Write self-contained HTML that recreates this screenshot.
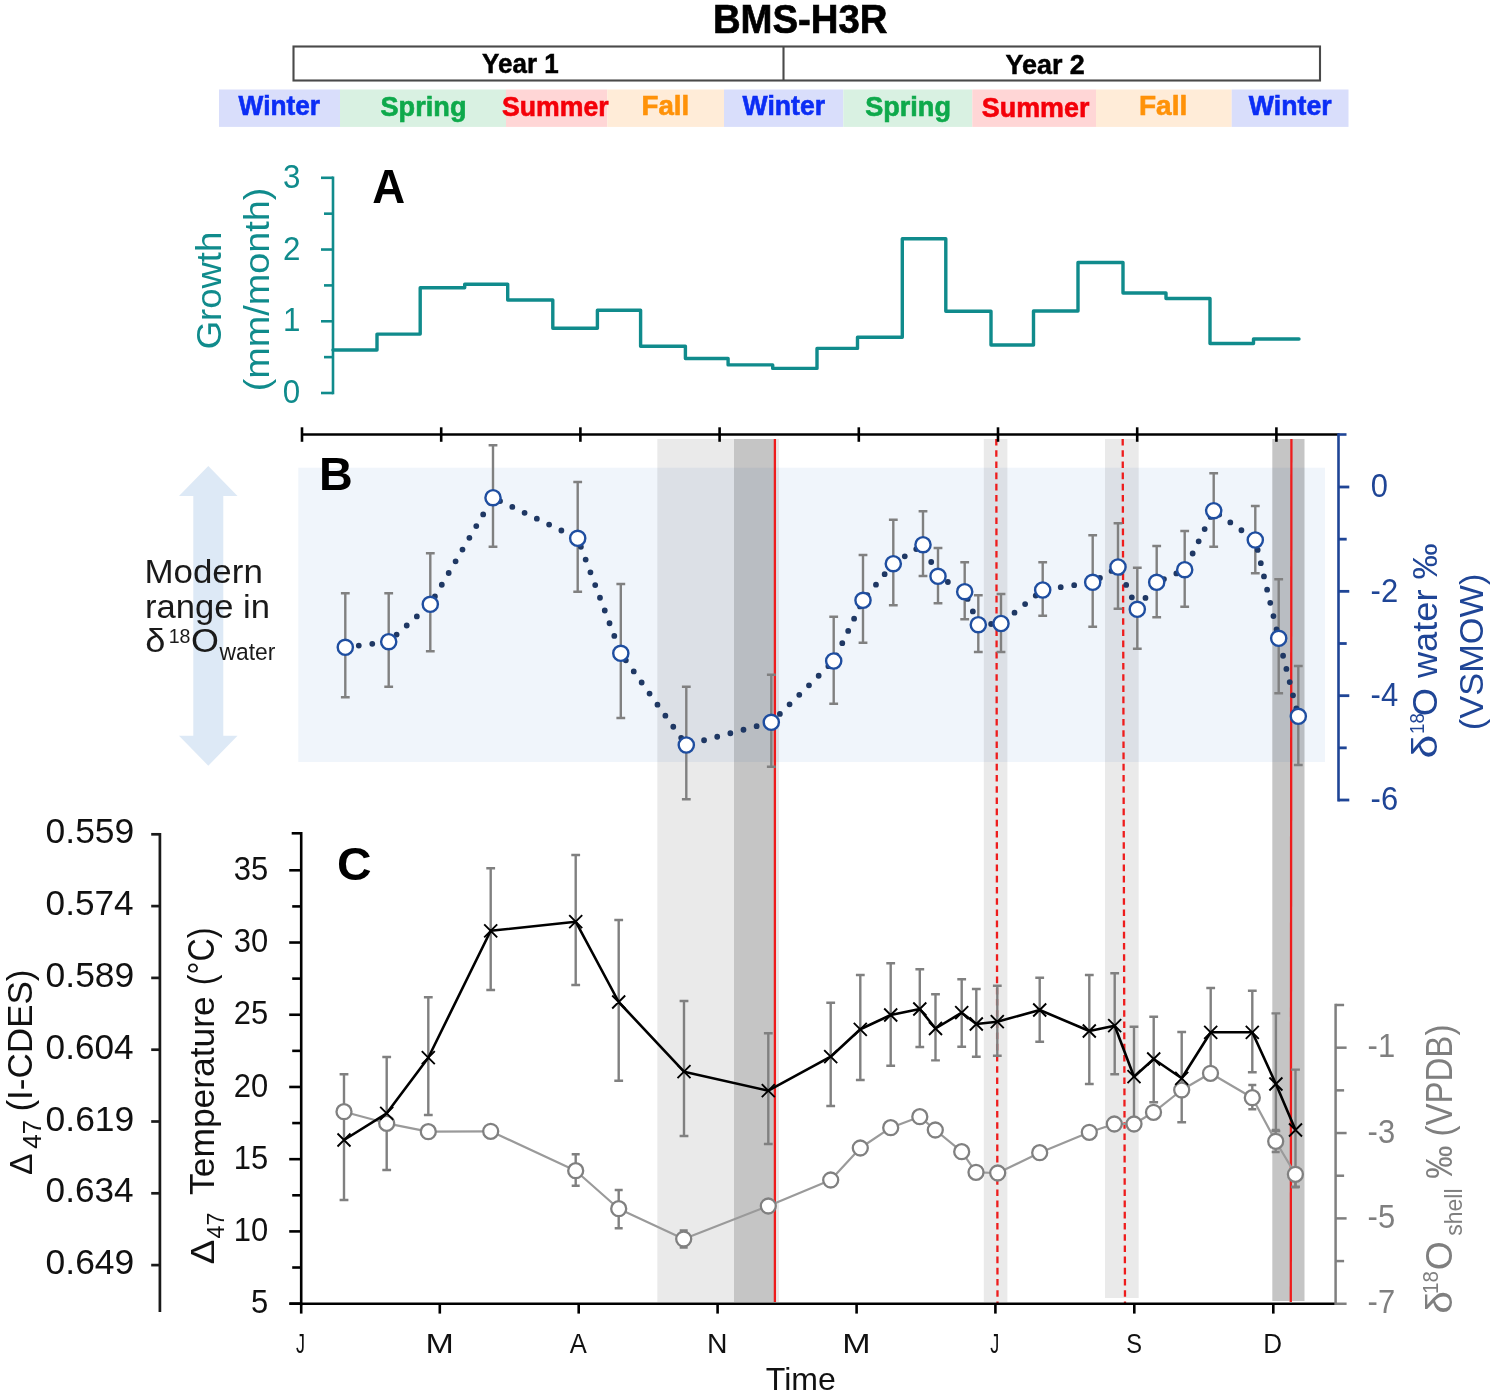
<!DOCTYPE html>
<html lang="en">
<head>
<meta charset="utf-8">
<title>BMS-H3R</title>
<style>
html,body{margin:0;padding:0;background:#fff;}
body{width:1499px;height:1395px;overflow:hidden;}
svg{display:block;font-family:"Liberation Sans", sans-serif;}
</style>
</head>
<body>
<svg width="1499" height="1395" viewBox="0 0 1499 1395">
<rect width="1499" height="1395" fill="#fff"/>
<text transform="translate(712.91 33) scale(0.9239 1)" font-size="41.5" fill="#000" font-weight="bold" stroke="#000" stroke-width="0.7">BMS-H3R</text>
<rect x="293.5" y="46.5" width="1026.5" height="34" fill="#fff" stroke="#4a4a4a" stroke-width="2.1"/>
<line x1="783.5" y1="46.5" x2="783.5" y2="80.5" stroke="#4a4a4a" stroke-width="2.1"/>
<text transform="translate(482.08 73.3) scale(0.9524 1)" font-size="27.3" fill="#000" font-weight="bold" stroke="#000" stroke-width="0.5">Year 1</text>
<text transform="translate(1005.46 74.2) scale(0.9865 1)" font-size="27.3" fill="#000" font-weight="bold" stroke="#000" stroke-width="0.5">Year 2</text>
<rect x="219" y="89.5" width="121.0" height="37.4" fill="#d9defb"/>
<rect x="340" y="89.5" width="166.0" height="37.4" fill="#d9f1e2"/>
<rect x="506" y="89.5" width="101.3" height="37.4" fill="#ffd6d6"/>
<rect x="607.3" y="89.5" width="116.7" height="37.4" fill="#ffecd8"/>
<rect x="724" y="89.5" width="119.3" height="37.4" fill="#d9defb"/>
<rect x="843.3" y="89.5" width="129.0" height="37.4" fill="#d9f1e2"/>
<rect x="972.3" y="89.5" width="123.7" height="37.4" fill="#ffd6d6"/>
<rect x="1096" y="89.5" width="135.7" height="37.4" fill="#ffecd8"/>
<rect x="1231.7" y="89.5" width="116.8" height="37.4" fill="#d9defb"/>
<text transform="translate(238.6 115) scale(0.9629 1)" font-size="27.3" fill="#0b2df5" font-weight="bold" stroke="#0b2df5" stroke-width="0.6">Winter</text>
<text transform="translate(380.49 115.5) scale(0.9951 1)" font-size="27.3" fill="#0ea94b" font-weight="bold" stroke="#0ea94b" stroke-width="0.6">Spring</text>
<text transform="translate(502 116) scale(0.9762 1)" font-size="27.3" fill="#f40009" font-weight="bold" stroke="#f40009" stroke-width="0.6">Summer</text>
<text transform="translate(641.5 114.5) scale(1.0145 1)" font-size="27.3" fill="#ff9208" font-weight="bold" stroke="#ff9208" stroke-width="0.6">Fall</text>
<text transform="translate(742.6 115) scale(0.9748 1)" font-size="27.3" fill="#0b2df5" font-weight="bold" stroke="#0b2df5" stroke-width="0.6">Winter</text>
<text transform="translate(865.19 115.5) scale(0.9927 1)" font-size="27.3" fill="#0ea94b" font-weight="bold" stroke="#0ea94b" stroke-width="0.6">Spring</text>
<text transform="translate(981.79 116.5) scale(0.9854 1)" font-size="27.3" fill="#f40009" font-weight="bold" stroke="#f40009" stroke-width="0.6">Summer</text>
<text transform="translate(1138.98 114.5) scale(1.0261 1)" font-size="27.3" fill="#ff9208" font-weight="bold" stroke="#ff9208" stroke-width="0.6">Fall</text>
<text transform="translate(1248.8 115) scale(0.9784 1)" font-size="27.3" fill="#0b2df5" font-weight="bold" stroke="#0b2df5" stroke-width="0.6">Winter</text>
<rect x="298.3" y="467.7" width="1026.7" height="294.3" fill="#f0f5fb"/>
<rect x="657.3" y="439" width="76.7" height="863" fill="rgba(0,0,0,0.082)"/>
<rect x="734" y="439" width="41.8" height="863" fill="rgba(0,0,0,0.228)"/>
<rect x="775.8" y="439" width="3.2" height="863" fill="rgba(0,0,0,0.082)"/>
<rect x="983.8" y="439" width="23.6" height="863" fill="rgba(0,0,0,0.082)"/>
<rect x="1105" y="439" width="33.7" height="859" fill="rgba(0,0,0,0.082)"/>
<rect x="1272.3" y="439" width="32.2" height="862" fill="rgba(0,0,0,0.228)"/>
<line x1="774.9" y1="439" x2="774.9" y2="1302" stroke="#ee1c1c" stroke-width="2.3"/>
<line x1="1291.4" y1="439" x2="1290.8" y2="1302" stroke="#ee1c1c" stroke-width="2.3"/>
<line x1="996.3" y1="439" x2="997.5" y2="1303" stroke="#ee1c1c" stroke-width="2.3" stroke-dasharray="6.6 4.6"/>
<line x1="1122.7" y1="439" x2="1125" y2="1303" stroke="#ee1c1c" stroke-width="2.3" stroke-dasharray="6.6 4.6"/>
<path d="M333 176.5 V394.3" stroke="#108b8c" stroke-width="2.6" fill="none"/>
<line x1="321" y1="393" x2="333" y2="393" stroke="#108b8c" stroke-width="2.6"/>
<line x1="324" y1="357.13" x2="333" y2="357.13" stroke="#108b8c" stroke-width="2.6"/>
<line x1="321" y1="321.27" x2="333" y2="321.27" stroke="#108b8c" stroke-width="2.6"/>
<line x1="324" y1="285.4" x2="333" y2="285.4" stroke="#108b8c" stroke-width="2.6"/>
<line x1="321" y1="249.53" x2="333" y2="249.53" stroke="#108b8c" stroke-width="2.6"/>
<line x1="324" y1="213.67" x2="333" y2="213.67" stroke="#108b8c" stroke-width="2.6"/>
<line x1="321" y1="177.8" x2="333" y2="177.8" stroke="#108b8c" stroke-width="2.6"/>
<text transform="translate(282.94 187.8) scale(0.9400 1)" font-size="33.3" fill="#108b8c">3</text>
<text transform="translate(283.09 259.7) scale(0.9400 1)" font-size="33.3" fill="#108b8c">2</text>
<text transform="translate(283.09 331.3) scale(0.9400 1)" font-size="33.3" fill="#108b8c">1</text>
<text transform="translate(282.78 403) scale(0.9400 1)" font-size="33.3" fill="#108b8c">0</text>
<text transform="translate(221.4 349.32) rotate(-90) scale(1.0138 1)" font-size="36" fill="#108b8c">Growth</text>
<text transform="translate(269 391.27) rotate(-90) scale(1.0499 1)" font-size="36" fill="#108b8c">(mm/month)</text>
<text transform="translate(372.36 203.4) scale(0.9484 1)" font-size="48" fill="#000" font-weight="bold">A</text>
<path d="M333 350 H377 V334.1 H420.2 V287.7 H464.7 V284.2 H507.7 V300 H552.8 V328.3 H597.4 V310.2 H640.6 V346.2 H685.4 V358.5 H728.1 V364.9 H772.7 V368.4 H817 V348.4 H857.5 V337.2 H902.3 V238.7 H945.8 V311.2 H991 V345 H1033.5 V311 H1078 V262.5 H1123 V293 H1166 V298.5 H1210 V343.5 H1253.5 V339 H1299" stroke="#108b8c" stroke-width="3.4" fill="none" stroke-linejoin="round" stroke-linecap="round"/>
<line x1="301" y1="434.5" x2="1339" y2="434.5" stroke="#000" stroke-width="2.6"/>
<line x1="302" y1="427.3" x2="302" y2="441.8" stroke="#000" stroke-width="2.6"/>
<line x1="441.2" y1="427.3" x2="441.2" y2="441.8" stroke="#000" stroke-width="2.6"/>
<line x1="580.4" y1="427.3" x2="580.4" y2="441.8" stroke="#000" stroke-width="2.6"/>
<line x1="719.6" y1="427.3" x2="719.6" y2="441.8" stroke="#000" stroke-width="2.6"/>
<line x1="858.8" y1="427.3" x2="858.8" y2="441.8" stroke="#000" stroke-width="2.6"/>
<line x1="998" y1="427.3" x2="998" y2="441.8" stroke="#000" stroke-width="2.6"/>
<line x1="1137.2" y1="427.3" x2="1137.2" y2="441.8" stroke="#000" stroke-width="2.6"/>
<line x1="1276.4" y1="427.3" x2="1276.4" y2="441.8" stroke="#000" stroke-width="2.6"/>
<path d="M208.3 466 L237.5 496 H223.3 V735.7 H237.5 L208.3 765.7 L179 735.7 H193.3 V496 H179 Z" fill="#dde9f6"/>
<text transform="translate(144.4 583.3) scale(1.0432 1)" font-size="33.5" fill="#1a1a1a">Modern</text>
<text transform="translate(144.95 618.3) scale(1.0330 1)" font-size="33.5" fill="#1a1a1a">range in</text>
<text transform="translate(145.35 651.7) scale(1.0809 1)" font-size="33.5" fill="#1a1a1a">δ</text>
<text transform="translate(168.73 643.3) scale(0.9332 1)" font-size="21" fill="#1a1a1a">18</text>
<text transform="translate(191.08 651.7) scale(1.0720 1)" font-size="33.5" fill="#1a1a1a">O</text>
<text transform="translate(219.5 659.5) scale(0.9719 1)" font-size="23.5" fill="#1a1a1a">water</text>
<text transform="translate(318.96 490) scale(0.9941 1)" font-size="47" fill="#000" font-weight="bold">B</text>
<path d="M345.3 593.3 V697.3 M340.90000000000003 593.3 H349.7 M340.90000000000003 697.3 H349.7" stroke="#808080" stroke-width="2.4" fill="none"/>
<path d="M388.7 593.3 V686.7 M384.3 593.3 H393.09999999999997 M384.3 686.7 H393.09999999999997" stroke="#808080" stroke-width="2.4" fill="none"/>
<path d="M430.3 553.3 V651.3 M425.90000000000003 553.3 H434.7 M425.90000000000003 651.3 H434.7" stroke="#808080" stroke-width="2.4" fill="none"/>
<path d="M493 445.3 V546.7 M488.6 445.3 H497.4 M488.6 546.7 H497.4" stroke="#808080" stroke-width="2.4" fill="none"/>
<path d="M577.7 482 V591.7 M573.3000000000001 482 H582.1 M573.3000000000001 591.7 H582.1" stroke="#808080" stroke-width="2.4" fill="none"/>
<path d="M620.8 584 V718 M616.4 584 H625.1999999999999 M616.4 718 H625.1999999999999" stroke="#808080" stroke-width="2.4" fill="none"/>
<path d="M686.3 686.7 V799.3 M681.9 686.7 H690.6999999999999 M681.9 799.3 H690.6999999999999" stroke="#808080" stroke-width="2.4" fill="none"/>
<path d="M771.3 674.7 V766.7 M766.9 674.7 H775.6999999999999 M766.9 766.7 H775.6999999999999" stroke="#808080" stroke-width="2.4" fill="none"/>
<path d="M833.7 616.7 V703.7 M829.3000000000001 616.7 H838.1 M829.3000000000001 703.7 H838.1" stroke="#808080" stroke-width="2.4" fill="none"/>
<path d="M863 555 V642.7 M858.6 555 H867.4 M858.6 642.7 H867.4" stroke="#808080" stroke-width="2.4" fill="none"/>
<path d="M893.3 519.7 V605.3 M888.9 519.7 H897.6999999999999 M888.9 605.3 H897.6999999999999" stroke="#808080" stroke-width="2.4" fill="none"/>
<path d="M923 511.3 V576 M918.6 511.3 H927.4 M918.6 576 H927.4" stroke="#808080" stroke-width="2.4" fill="none"/>
<path d="M938 548 V603.3 M933.6 548 H942.4 M933.6 603.3 H942.4" stroke="#808080" stroke-width="2.4" fill="none"/>
<path d="M964.7 562.3 V619.3 M960.3000000000001 562.3 H969.1 M960.3000000000001 619.3 H969.1" stroke="#808080" stroke-width="2.4" fill="none"/>
<path d="M978.3 595.3 V652 M973.9 595.3 H982.6999999999999 M973.9 652 H982.6999999999999" stroke="#808080" stroke-width="2.4" fill="none"/>
<path d="M1001 594 V652 M996.6 594 H1005.4 M996.6 652 H1005.4" stroke="#808080" stroke-width="2.4" fill="none"/>
<path d="M1042.7 562.3 V615.7 M1038.3 562.3 H1047.1000000000001 M1038.3 615.7 H1047.1000000000001" stroke="#808080" stroke-width="2.4" fill="none"/>
<path d="M1092.7 535.3 V626.7 M1088.3 535.3 H1097.1000000000001 M1088.3 626.7 H1097.1000000000001" stroke="#808080" stroke-width="2.4" fill="none"/>
<path d="M1118 523.3 V608.7 M1113.6 523.3 H1122.4 M1113.6 608.7 H1122.4" stroke="#808080" stroke-width="2.4" fill="none"/>
<path d="M1137.3 567.7 V648.7 M1132.8999999999999 567.7 H1141.7 M1132.8999999999999 648.7 H1141.7" stroke="#808080" stroke-width="2.4" fill="none"/>
<path d="M1156.7 546 V617.3 M1152.3 546 H1161.1000000000001 M1152.3 617.3 H1161.1000000000001" stroke="#808080" stroke-width="2.4" fill="none"/>
<path d="M1184.7 531 V606.7 M1180.3 531 H1189.1000000000001 M1180.3 606.7 H1189.1000000000001" stroke="#808080" stroke-width="2.4" fill="none"/>
<path d="M1213.7 473.3 V546.7 M1209.3 473.3 H1218.1000000000001 M1209.3 546.7 H1218.1000000000001" stroke="#808080" stroke-width="2.4" fill="none"/>
<path d="M1255.3 506 V573.3 M1250.8999999999999 506 H1259.7 M1250.8999999999999 573.3 H1259.7" stroke="#808080" stroke-width="2.4" fill="none"/>
<path d="M1278.7 579.3 V693.3 M1274.3 579.3 H1283.1000000000001 M1274.3 693.3 H1283.1000000000001" stroke="#808080" stroke-width="2.4" fill="none"/>
<path d="M1298.3 666 V765 M1293.8999999999999 666 H1302.7 M1293.8999999999999 765 H1302.7" stroke="#808080" stroke-width="2.4" fill="none"/>
<polyline points="345.3,647.3 388.7,641.7 430.3,604.3 493,497.7 577.7,538.3 620.8,653.3 686.3,745 771.3,722.3 833.7,661 863,600.3 893.3,563.7 923,544.7 938,576.3 964.7,591.7 978.3,624.7 1001,623.5 1042.7,590 1092.7,582.3 1118,567 1137.3,609.3 1156.7,582.3 1184.7,569.7 1213.7,510.7 1255.3,540 1278.7,638.3 1298.3,716.3" fill="none" stroke="#1f3864" stroke-width="5.8" stroke-linecap="round" stroke-dasharray="0 13.6"/>
<circle cx="345.3" cy="647.3" r="7.6" fill="#fff" stroke="#1f4ea0" stroke-width="2.4"/>
<circle cx="388.7" cy="641.7" r="7.6" fill="#fff" stroke="#1f4ea0" stroke-width="2.4"/>
<circle cx="430.3" cy="604.3" r="7.6" fill="#fff" stroke="#1f4ea0" stroke-width="2.4"/>
<circle cx="493" cy="497.7" r="7.6" fill="#fff" stroke="#1f4ea0" stroke-width="2.4"/>
<circle cx="577.7" cy="538.3" r="7.6" fill="#fff" stroke="#1f4ea0" stroke-width="2.4"/>
<circle cx="620.8" cy="653.3" r="7.6" fill="#fff" stroke="#1f4ea0" stroke-width="2.4"/>
<circle cx="686.3" cy="745" r="7.6" fill="#fff" stroke="#1f4ea0" stroke-width="2.4"/>
<circle cx="771.3" cy="722.3" r="7.6" fill="#fff" stroke="#1f4ea0" stroke-width="2.4"/>
<circle cx="833.7" cy="661" r="7.6" fill="#fff" stroke="#1f4ea0" stroke-width="2.4"/>
<circle cx="863" cy="600.3" r="7.6" fill="#fff" stroke="#1f4ea0" stroke-width="2.4"/>
<circle cx="893.3" cy="563.7" r="7.6" fill="#fff" stroke="#1f4ea0" stroke-width="2.4"/>
<circle cx="923" cy="544.7" r="7.6" fill="#fff" stroke="#1f4ea0" stroke-width="2.4"/>
<circle cx="938" cy="576.3" r="7.6" fill="#fff" stroke="#1f4ea0" stroke-width="2.4"/>
<circle cx="964.7" cy="591.7" r="7.6" fill="#fff" stroke="#1f4ea0" stroke-width="2.4"/>
<circle cx="978.3" cy="624.7" r="7.6" fill="#fff" stroke="#1f4ea0" stroke-width="2.4"/>
<circle cx="1001" cy="623.5" r="7.6" fill="#fff" stroke="#1f4ea0" stroke-width="2.4"/>
<circle cx="1042.7" cy="590" r="7.6" fill="#fff" stroke="#1f4ea0" stroke-width="2.4"/>
<circle cx="1092.7" cy="582.3" r="7.6" fill="#fff" stroke="#1f4ea0" stroke-width="2.4"/>
<circle cx="1118" cy="567" r="7.6" fill="#fff" stroke="#1f4ea0" stroke-width="2.4"/>
<circle cx="1137.3" cy="609.3" r="7.6" fill="#fff" stroke="#1f4ea0" stroke-width="2.4"/>
<circle cx="1156.7" cy="582.3" r="7.6" fill="#fff" stroke="#1f4ea0" stroke-width="2.4"/>
<circle cx="1184.7" cy="569.7" r="7.6" fill="#fff" stroke="#1f4ea0" stroke-width="2.4"/>
<circle cx="1213.7" cy="510.7" r="7.6" fill="#fff" stroke="#1f4ea0" stroke-width="2.4"/>
<circle cx="1255.3" cy="540" r="7.6" fill="#fff" stroke="#1f4ea0" stroke-width="2.4"/>
<circle cx="1278.7" cy="638.3" r="7.6" fill="#fff" stroke="#1f4ea0" stroke-width="2.4"/>
<circle cx="1298.3" cy="716.3" r="7.6" fill="#fff" stroke="#1f4ea0" stroke-width="2.4"/>
<path d="M1338.5 433.2 V801.4" stroke="#1f4596" stroke-width="2.6" fill="none"/>
<line x1="1338.5" y1="434.5" x2="1346.5" y2="434.5" stroke="#1f4596" stroke-width="2.6"/>
<line x1="1338.5" y1="487" x2="1349.3" y2="487" stroke="#1f4596" stroke-width="2.8"/>
<line x1="1338.5" y1="539.17" x2="1346.7" y2="539.17" stroke="#1f4596" stroke-width="2.8"/>
<line x1="1338.5" y1="591.34" x2="1349.3" y2="591.34" stroke="#1f4596" stroke-width="2.8"/>
<line x1="1338.5" y1="643.51" x2="1346.7" y2="643.51" stroke="#1f4596" stroke-width="2.8"/>
<line x1="1338.5" y1="695.68" x2="1349.3" y2="695.68" stroke="#1f4596" stroke-width="2.8"/>
<line x1="1338.5" y1="747.85" x2="1346.7" y2="747.85" stroke="#1f4596" stroke-width="2.8"/>
<line x1="1338.5" y1="800.02" x2="1349.3" y2="800.02" stroke="#1f4596" stroke-width="2.8"/>
<text transform="translate(1370.76 497.3) scale(0.9300 1)" font-size="33.3" fill="#1f4596">0</text>
<text transform="translate(1370.61 601.6) scale(0.9300 1)" font-size="33.3" fill="#1f4596">-2</text>
<text transform="translate(1370.61 706) scale(0.9300 1)" font-size="33.3" fill="#1f4596">-4</text>
<text transform="translate(1370.61 810.3) scale(0.9300 1)" font-size="33.3" fill="#1f4596">-6</text>
<text transform="translate(1437 758.51) rotate(-90) scale(1.2211 1)" font-size="35" fill="#1f4596">δ</text>
<text transform="translate(1423.7 733.89) rotate(-90) scale(0.9296 1)" font-size="20" fill="#1f4596">18</text>
<text transform="translate(1437 716.33) rotate(-90) scale(1.0348 1)" font-size="35" fill="#1f4596">O water ‰</text>
<text transform="translate(1483 730.16) rotate(-90) scale(1.0239 1)" font-size="33.6" fill="#1f4596">(VSMOW)</text>
<path d="M159.9 832.9 V1312" stroke="#1a1a1a" stroke-width="2.7" fill="none"/>
<line x1="151.2" y1="834.3" x2="159.9" y2="834.3" stroke="#1a1a1a" stroke-width="2.7"/>
<text transform="translate(45.58 843.4) scale(0.9846 1)" font-size="36" fill="#111">0.559</text>
<line x1="151.2" y1="906.1" x2="159.9" y2="906.1" stroke="#1a1a1a" stroke-width="2.7"/>
<text transform="translate(45.59 915.2) scale(0.9765 1)" font-size="36" fill="#111">0.574</text>
<line x1="151.2" y1="977.9" x2="159.9" y2="977.9" stroke="#1a1a1a" stroke-width="2.7"/>
<text transform="translate(45.58 987) scale(0.9846 1)" font-size="36" fill="#111">0.589</text>
<line x1="151.2" y1="1049.7" x2="159.9" y2="1049.7" stroke="#1a1a1a" stroke-width="2.7"/>
<text transform="translate(45.59 1058.8) scale(0.9765 1)" font-size="36" fill="#111">0.604</text>
<line x1="151.2" y1="1121.5" x2="159.9" y2="1121.5" stroke="#1a1a1a" stroke-width="2.7"/>
<text transform="translate(45.58 1130.6) scale(0.9846 1)" font-size="36" fill="#111">0.619</text>
<line x1="151.2" y1="1193.3" x2="159.9" y2="1193.3" stroke="#1a1a1a" stroke-width="2.7"/>
<text transform="translate(45.59 1202.4) scale(0.9765 1)" font-size="36" fill="#111">0.634</text>
<line x1="151.2" y1="1265.1" x2="159.9" y2="1265.1" stroke="#1a1a1a" stroke-width="2.7"/>
<text transform="translate(45.58 1274.2) scale(0.9846 1)" font-size="36" fill="#111">0.649</text>
<text transform="translate(32.3 1174.97) rotate(-90) scale(1.0418 1)" font-size="31" fill="#111">Δ</text>
<text transform="translate(41.2 1148.65) rotate(-90) scale(1.0357 1)" font-size="25" fill="#111">47</text>
<text transform="translate(32.3 1111.6) rotate(-90) scale(0.9742 1)" font-size="36" fill="#111">(I-CDES)</text>
<path d="M301.2 831.9 V1305.2" stroke="#000" stroke-width="2.6" fill="none"/>
<line x1="291.7" y1="833.3" x2="301.2" y2="833.3" stroke="#000" stroke-width="2.6"/>
<line x1="289.2" y1="870.3" x2="301.2" y2="870.3" stroke="#000" stroke-width="2.6"/>
<line x1="292.2" y1="906.41" x2="301.2" y2="906.41" stroke="#000" stroke-width="2.6"/>
<line x1="289.2" y1="942.52" x2="301.2" y2="942.52" stroke="#000" stroke-width="2.6"/>
<line x1="292.2" y1="978.63" x2="301.2" y2="978.63" stroke="#000" stroke-width="2.6"/>
<line x1="289.2" y1="1014.74" x2="301.2" y2="1014.74" stroke="#000" stroke-width="2.6"/>
<line x1="292.2" y1="1050.85" x2="301.2" y2="1050.85" stroke="#000" stroke-width="2.6"/>
<line x1="289.2" y1="1086.96" x2="301.2" y2="1086.96" stroke="#000" stroke-width="2.6"/>
<line x1="292.2" y1="1123.07" x2="301.2" y2="1123.07" stroke="#000" stroke-width="2.6"/>
<line x1="289.2" y1="1159.18" x2="301.2" y2="1159.18" stroke="#000" stroke-width="2.6"/>
<line x1="292.2" y1="1195.29" x2="301.2" y2="1195.29" stroke="#000" stroke-width="2.6"/>
<line x1="289.2" y1="1231.4" x2="301.2" y2="1231.4" stroke="#000" stroke-width="2.6"/>
<line x1="292.2" y1="1267.51" x2="301.2" y2="1267.51" stroke="#000" stroke-width="2.6"/>
<line x1="289.2" y1="1303.62" x2="301.2" y2="1303.62" stroke="#000" stroke-width="2.6"/>
<text transform="translate(233.86 879.9) scale(0.9300 1)" font-size="33.3" fill="#111">35</text>
<text transform="translate(233.71 952.12) scale(0.9300 1)" font-size="33.3" fill="#111">30</text>
<text transform="translate(233.86 1024.34) scale(0.9300 1)" font-size="33.3" fill="#111">25</text>
<text transform="translate(233.71 1096.56) scale(0.9300 1)" font-size="33.3" fill="#111">20</text>
<text transform="translate(233.86 1168.78) scale(0.9300 1)" font-size="33.3" fill="#111">15</text>
<text transform="translate(233.71 1241) scale(0.9300 1)" font-size="33.3" fill="#111">10</text>
<text transform="translate(251.05 1313.22) scale(0.9300 1)" font-size="33.3" fill="#111">5</text>
<text transform="translate(213.9 1264.2) rotate(-90) scale(1.1299 1)" font-size="32.5" fill="#111">Δ</text>
<text transform="translate(223.8 1238.58) rotate(-90) scale(0.9742 1)" font-size="24" fill="#111">47</text>
<text transform="translate(213.9 1194.99) rotate(-90) scale(0.9839 1)" font-size="36" fill="#111">Temperature</text>
<text transform="translate(213.9 985.24) rotate(-90) scale(0.8959 1)" font-size="36" fill="#111">(°C)</text>
<text transform="translate(336.88 879.7) scale(1.0309 1)" font-size="46.5" fill="#000" font-weight="bold">C</text>
<line x1="289.7" y1="1303.8" x2="1336.5" y2="1303.8" stroke="#000" stroke-width="2.6"/>
<line x1="301.2" y1="1303.8" x2="301.2" y2="1313.6" stroke="#000" stroke-width="2.6"/>
<text transform="translate(296.03 1352.6) scale(0.6539 1)" font-size="27.6" fill="#111">J</text>
<line x1="439.8" y1="1303.8" x2="439.8" y2="1313.6" stroke="#000" stroke-width="2.6"/>
<text transform="translate(425.38 1352.6) scale(1.2330 1)" font-size="27.6" fill="#111">M</text>
<line x1="578.7" y1="1303.8" x2="578.7" y2="1313.6" stroke="#000" stroke-width="2.6"/>
<text transform="translate(569.82 1352.6) scale(0.9278 1)" font-size="27.6" fill="#111">A</text>
<line x1="717.6" y1="1303.8" x2="717.6" y2="1313.6" stroke="#000" stroke-width="2.6"/>
<text transform="translate(707.08 1352.6) scale(1.0287 1)" font-size="27.6" fill="#111">N</text>
<line x1="856.6" y1="1303.8" x2="856.6" y2="1313.6" stroke="#000" stroke-width="2.6"/>
<text transform="translate(842.18 1352.6) scale(1.2330 1)" font-size="27.6" fill="#111">M</text>
<line x1="995.4" y1="1303.8" x2="995.4" y2="1313.6" stroke="#000" stroke-width="2.6"/>
<text transform="translate(990.23 1352.6) scale(0.6539 1)" font-size="27.6" fill="#111">J</text>
<line x1="1134.3" y1="1303.8" x2="1134.3" y2="1313.6" stroke="#000" stroke-width="2.6"/>
<text transform="translate(1126.14 1352.6) scale(0.8570 1)" font-size="27.6" fill="#111">S</text>
<line x1="1273.3" y1="1303.8" x2="1273.3" y2="1313.6" stroke="#000" stroke-width="2.6"/>
<text transform="translate(1263.17 1352.6) scale(0.9439 1)" font-size="27.6" fill="#111">D</text>
<text transform="translate(765.8 1390.2) scale(1.0177 1)" font-size="31.5" fill="#111">Time</text>
<path d="M1335.6 1003.7 V1305.1" stroke="#7f7f7f" stroke-width="2.5" fill="none"/>
<line x1="1335.6" y1="1005" x2="1344.1" y2="1005" stroke="#7f7f7f" stroke-width="2.5"/>
<line x1="1335.6" y1="1047.68" x2="1346.6" y2="1047.68" stroke="#7f7f7f" stroke-width="2.5"/>
<line x1="1335.6" y1="1090.36" x2="1344.1" y2="1090.36" stroke="#7f7f7f" stroke-width="2.5"/>
<line x1="1335.6" y1="1133.04" x2="1346.6" y2="1133.04" stroke="#7f7f7f" stroke-width="2.5"/>
<line x1="1335.6" y1="1175.72" x2="1344.1" y2="1175.72" stroke="#7f7f7f" stroke-width="2.5"/>
<line x1="1335.6" y1="1218.4" x2="1346.6" y2="1218.4" stroke="#7f7f7f" stroke-width="2.5"/>
<line x1="1335.6" y1="1261.08" x2="1344.1" y2="1261.08" stroke="#7f7f7f" stroke-width="2.5"/>
<line x1="1335.6" y1="1303.76" x2="1346.6" y2="1303.76" stroke="#7f7f7f" stroke-width="2.5"/>
<text transform="translate(1367.61 1057.3) scale(0.9300 1)" font-size="33.3" fill="#7f7f7f">-1</text>
<text transform="translate(1367.61 1142.6) scale(0.9300 1)" font-size="33.3" fill="#7f7f7f">-3</text>
<text transform="translate(1367.61 1228) scale(0.9300 1)" font-size="33.3" fill="#7f7f7f">-5</text>
<text transform="translate(1367.61 1313.4) scale(0.9300 1)" font-size="33.3" fill="#7f7f7f">-7</text>
<text transform="translate(1452 1313.64) rotate(-90) scale(1.1247 1)" font-size="36.5" fill="#7f7f7f">δ</text>
<text transform="translate(1438 1294.05) rotate(-90) scale(0.9365 1)" font-size="22" fill="#7f7f7f">18</text>
<text transform="translate(1452 1270.18) rotate(-90) scale(1.0199 1)" font-size="36.5" fill="#7f7f7f">O</text>
<text transform="translate(1461.7 1235.69) rotate(-90) scale(0.9566 1)" font-size="24" fill="#7f7f7f">shell</text>
<text transform="translate(1452 1178.83) rotate(-90) scale(0.9057 1)" font-size="36.5" fill="#7f7f7f">‰ (VPDB)</text>
<path d="M344 1074.3 V1200 M339.6 1074.3 H348.4 M339.6 1200 H348.4" stroke="#808080" stroke-width="2.4" fill="none"/>
<path d="M386.7 1057 V1170 M382.3 1057 H391.09999999999997 M382.3 1170 H391.09999999999997" stroke="#808080" stroke-width="2.4" fill="none"/>
<path d="M428.3 997.3 V1115 M423.90000000000003 997.3 H432.7 M423.90000000000003 1115 H432.7" stroke="#808080" stroke-width="2.4" fill="none"/>
<path d="M490.7 868.3 V990 M486.3 868.3 H495.09999999999997 M486.3 990 H495.09999999999997" stroke="#808080" stroke-width="2.4" fill="none"/>
<path d="M575.7 855 V985 M571.3000000000001 855 H580.1 M571.3000000000001 985 H580.1" stroke="#808080" stroke-width="2.4" fill="none"/>
<path d="M618.7 920 V1080.7 M614.3000000000001 920 H623.1 M614.3000000000001 1080.7 H623.1" stroke="#808080" stroke-width="2.4" fill="none"/>
<path d="M684 1001 V1136 M679.6 1001 H688.4 M679.6 1136 H688.4" stroke="#808080" stroke-width="2.4" fill="none"/>
<path d="M768.3 1033.3 V1144 M763.9 1033.3 H772.6999999999999 M763.9 1144 H772.6999999999999" stroke="#808080" stroke-width="2.4" fill="none"/>
<path d="M830.7 1002.7 V1106 M826.3000000000001 1002.7 H835.1 M826.3000000000001 1106 H835.1" stroke="#808080" stroke-width="2.4" fill="none"/>
<path d="M860.3 975 V1080 M855.9 975 H864.6999999999999 M855.9 1080 H864.6999999999999" stroke="#808080" stroke-width="2.4" fill="none"/>
<path d="M890.7 963.3 V1065.7 M886.3000000000001 963.3 H895.1 M886.3000000000001 1065.7 H895.1" stroke="#808080" stroke-width="2.4" fill="none"/>
<path d="M919.8 969.3 V1047 M915.4 969.3 H924.1999999999999 M915.4 1047 H924.1999999999999" stroke="#808080" stroke-width="2.4" fill="none"/>
<path d="M935.5 994.2 V1060.4 M931.1 994.2 H939.9 M931.1 1060.4 H939.9" stroke="#808080" stroke-width="2.4" fill="none"/>
<path d="M961.7 979.3 V1046.7 M957.3000000000001 979.3 H966.1 M957.3000000000001 1046.7 H966.1" stroke="#808080" stroke-width="2.4" fill="none"/>
<path d="M976.3 989 V1056.7 M971.9 989 H980.6999999999999 M971.9 1056.7 H980.6999999999999" stroke="#808080" stroke-width="2.4" fill="none"/>
<path d="M997.3 985.7 V1055.7 M992.9 985.7 H1001.6999999999999 M992.9 1055.7 H1001.6999999999999" stroke="#808080" stroke-width="2.4" fill="none"/>
<path d="M1039.7 977.7 V1041.7 M1035.3 977.7 H1044.1000000000001 M1035.3 1041.7 H1044.1000000000001" stroke="#808080" stroke-width="2.4" fill="none"/>
<path d="M1089.3 975 V1084 M1084.8999999999999 975 H1093.7 M1084.8999999999999 1084 H1093.7" stroke="#808080" stroke-width="2.4" fill="none"/>
<path d="M1114.7 973.3 V1074.3 M1110.3 973.3 H1119.1000000000001 M1110.3 1074.3 H1119.1000000000001" stroke="#808080" stroke-width="2.4" fill="none"/>
<path d="M1134 1026.7 V1126.7 M1129.6 1026.7 H1138.4 M1129.6 1126.7 H1138.4" stroke="#808080" stroke-width="2.4" fill="none"/>
<path d="M1153.7 1016.7 V1102.3 M1149.3 1016.7 H1158.1000000000001 M1149.3 1102.3 H1158.1000000000001" stroke="#808080" stroke-width="2.4" fill="none"/>
<path d="M1181.7 1032 V1122.3 M1177.3 1032 H1186.1000000000001 M1177.3 1122.3 H1186.1000000000001" stroke="#808080" stroke-width="2.4" fill="none"/>
<path d="M1210.7 988 V1073 M1206.3 988 H1215.1000000000001 M1206.3 1073 H1215.1000000000001" stroke="#808080" stroke-width="2.4" fill="none"/>
<path d="M1252.3 990.7 V1072.3 M1247.8999999999999 990.7 H1256.7 M1247.8999999999999 1072.3 H1256.7" stroke="#808080" stroke-width="2.4" fill="none"/>
<path d="M1275.9 1013.4 V1131 M1271.5 1013.4 H1280.3000000000002 M1271.5 1131 H1280.3000000000002" stroke="#808080" stroke-width="2.4" fill="none"/>
<path d="M1295.5 1069.6 V1186.7 M1291.1 1069.6 H1299.9 M1291.1 1186.7 H1299.9" stroke="#808080" stroke-width="2.4" fill="none"/>
<path d="M575.7 1154.3 V1185.7 M571.7 1154.3 H579.7 M571.7 1185.7 H579.7" stroke="#808080" stroke-width="2.4" fill="none"/>
<path d="M618.7 1190 V1228.3 M614.7 1190 H622.7 M614.7 1228.3 H622.7" stroke="#808080" stroke-width="2.4" fill="none"/>
<path d="M683.7 1230.5 V1247.5 M679.7 1230.5 H687.7 M679.7 1247.5 H687.7" stroke="#808080" stroke-width="2.4" fill="none"/>
<path d="M1252.3 1085 V1109.3 M1248.3 1085 H1256.3 M1248.3 1109.3 H1256.3" stroke="#808080" stroke-width="2.4" fill="none"/>
<path d="M1275.7 1130 V1152 M1271.7 1130 H1279.7 M1271.7 1152 H1279.7" stroke="#808080" stroke-width="2.4" fill="none"/>
<path d="M1295.4 1168 V1187.3 M1291.4 1168 H1299.4 M1291.4 1187.3 H1299.4" stroke="#808080" stroke-width="2.4" fill="none"/>
<polyline points="344,1111.7 386.7,1123.3 428.3,1131.7 490.7,1131.3 575.7,1170.7 618.7,1208.7 683.7,1239 768.3,1206 830.7,1180 860.3,1148 890.7,1127.7 919.8,1116.7 935.3,1130 961.7,1151.7 976,1172.3 997.7,1173 1039.7,1152.7 1089.3,1132.3 1114.3,1124 1134,1124 1153.5,1112.3 1181.7,1090 1210.5,1073.3 1252.3,1097.7 1275.7,1141.3 1295.4,1174.3" fill="none" stroke="#9a9a9a" stroke-width="2.2" stroke-linejoin="round"/>
<circle cx="344" cy="1111.7" r="7.5" fill="#fff" stroke="#808080" stroke-width="2.3"/>
<circle cx="386.7" cy="1123.3" r="7.5" fill="#fff" stroke="#808080" stroke-width="2.3"/>
<circle cx="428.3" cy="1131.7" r="7.5" fill="#fff" stroke="#808080" stroke-width="2.3"/>
<circle cx="490.7" cy="1131.3" r="7.5" fill="#fff" stroke="#808080" stroke-width="2.3"/>
<circle cx="575.7" cy="1170.7" r="7.5" fill="#fff" stroke="#808080" stroke-width="2.3"/>
<circle cx="618.7" cy="1208.7" r="7.5" fill="#fff" stroke="#808080" stroke-width="2.3"/>
<circle cx="683.7" cy="1239" r="7.5" fill="#fff" stroke="#808080" stroke-width="2.3"/>
<circle cx="768.3" cy="1206" r="7.5" fill="#fff" stroke="#808080" stroke-width="2.3"/>
<circle cx="830.7" cy="1180" r="7.5" fill="#fff" stroke="#808080" stroke-width="2.3"/>
<circle cx="860.3" cy="1148" r="7.5" fill="#fff" stroke="#808080" stroke-width="2.3"/>
<circle cx="890.7" cy="1127.7" r="7.5" fill="#fff" stroke="#808080" stroke-width="2.3"/>
<circle cx="919.8" cy="1116.7" r="7.5" fill="#fff" stroke="#808080" stroke-width="2.3"/>
<circle cx="935.3" cy="1130" r="7.5" fill="#fff" stroke="#808080" stroke-width="2.3"/>
<circle cx="961.7" cy="1151.7" r="7.5" fill="#fff" stroke="#808080" stroke-width="2.3"/>
<circle cx="976" cy="1172.3" r="7.5" fill="#fff" stroke="#808080" stroke-width="2.3"/>
<circle cx="997.7" cy="1173" r="7.5" fill="#fff" stroke="#808080" stroke-width="2.3"/>
<circle cx="1039.7" cy="1152.7" r="7.5" fill="#fff" stroke="#808080" stroke-width="2.3"/>
<circle cx="1089.3" cy="1132.3" r="7.5" fill="#fff" stroke="#808080" stroke-width="2.3"/>
<circle cx="1114.3" cy="1124" r="7.5" fill="#fff" stroke="#808080" stroke-width="2.3"/>
<circle cx="1134" cy="1124" r="7.5" fill="#fff" stroke="#808080" stroke-width="2.3"/>
<circle cx="1153.5" cy="1112.3" r="7.5" fill="#fff" stroke="#808080" stroke-width="2.3"/>
<circle cx="1181.7" cy="1090" r="7.5" fill="#fff" stroke="#808080" stroke-width="2.3"/>
<circle cx="1210.5" cy="1073.3" r="7.5" fill="#fff" stroke="#808080" stroke-width="2.3"/>
<circle cx="1252.3" cy="1097.7" r="7.5" fill="#fff" stroke="#808080" stroke-width="2.3"/>
<circle cx="1275.7" cy="1141.3" r="7.5" fill="#fff" stroke="#808080" stroke-width="2.3"/>
<circle cx="1295.4" cy="1174.3" r="7.5" fill="#fff" stroke="#808080" stroke-width="2.3"/>
<polyline points="344,1140 386.7,1113.3 428.3,1057.7 490.7,930.8 575.7,921.7 618.7,1002 684,1071.7 768.3,1090.7 830.7,1056.7 860.3,1029.3 890.7,1015 919.8,1009 935.5,1028.5 961.7,1012.7 976.3,1024 997.3,1021.7 1039.7,1010 1089.3,1031 1114.7,1025.7 1134,1076.7 1153.7,1059 1181.7,1078.3 1210.7,1032.3 1252.3,1032.3 1275.9,1084 1295.5,1130" fill="none" stroke="#000" stroke-width="2.6" stroke-linejoin="round"/>
<path d="M337.5 1133.5 L350.5 1146.5 M337.5 1146.5 L350.5 1133.5 M380.2 1106.8 L393.2 1119.8 M380.2 1119.8 L393.2 1106.8 M421.8 1051.2 L434.8 1064.2 M421.8 1064.2 L434.8 1051.2 M484.2 924.3 L497.2 937.3 M484.2 937.3 L497.2 924.3 M569.2 915.2 L582.2 928.2 M569.2 928.2 L582.2 915.2 M612.2 995.5 L625.2 1008.5 M612.2 1008.5 L625.2 995.5 M677.5 1065.2 L690.5 1078.2 M677.5 1078.2 L690.5 1065.2 M761.8 1084.2 L774.8 1097.2 M761.8 1097.2 L774.8 1084.2 M824.2 1050.2 L837.2 1063.2 M824.2 1063.2 L837.2 1050.2 M853.8 1022.8 L866.8 1035.8 M853.8 1035.8 L866.8 1022.8 M884.2 1008.5 L897.2 1021.5 M884.2 1021.5 L897.2 1008.5 M913.3 1002.5 L926.3 1015.5 M913.3 1015.5 L926.3 1002.5 M929.0 1022.0 L942.0 1035.0 M929.0 1035.0 L942.0 1022.0 M955.2 1006.2 L968.2 1019.2 M955.2 1019.2 L968.2 1006.2 M969.8 1017.5 L982.8 1030.5 M969.8 1030.5 L982.8 1017.5 M990.8 1015.2 L1003.8 1028.2 M990.8 1028.2 L1003.8 1015.2 M1033.2 1003.5 L1046.2 1016.5 M1033.2 1016.5 L1046.2 1003.5 M1082.8 1024.5 L1095.8 1037.5 M1082.8 1037.5 L1095.8 1024.5 M1108.2 1019.2 L1121.2 1032.2 M1108.2 1032.2 L1121.2 1019.2 M1127.5 1070.2 L1140.5 1083.2 M1127.5 1083.2 L1140.5 1070.2 M1147.2 1052.5 L1160.2 1065.5 M1147.2 1065.5 L1160.2 1052.5 M1175.2 1071.8 L1188.2 1084.8 M1175.2 1084.8 L1188.2 1071.8 M1204.2 1025.8 L1217.2 1038.8 M1204.2 1038.8 L1217.2 1025.8 M1245.8 1025.8 L1258.8 1038.8 M1245.8 1038.8 L1258.8 1025.8 M1269.4 1077.5 L1282.4 1090.5 M1269.4 1090.5 L1282.4 1077.5 M1289.0 1123.5 L1302.0 1136.5 M1289.0 1136.5 L1302.0 1123.5 " stroke="#000" stroke-width="1.9" fill="none"/>
</svg>
</body>
</html>
